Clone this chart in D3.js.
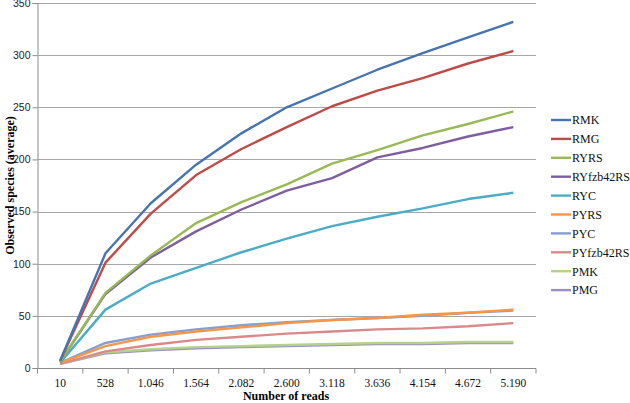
<!DOCTYPE html>
<html lang="en">
<head>
  <meta charset="UTF-8">
  <title>Observed species rarefaction</title>
  <style>
    html, body { margin: 0; padding: 0; background: #fff; }
    svg text { font-family: "Liberation Serif", "Times New Roman", serif; }
  </style>
</head>
<body>
<div id="chart"></div>
<script src="https://d3js.org/d3.v7.min.js"></script>
<script>
  const reads = ['10', '528', '1.046', '1.564', '2.082', '2.600', '3.118', '3.636', '4.154', '4.672', '5.190'];
  const yTicks = [0, 50, 100, 150, 200, 250, 300, 350];

  const seriesNames = ['RMK', 'RMG', 'RYRS', 'RYfzb42RS', 'RYC', 'PYRS', 'PYC', 'PYfzb42RS', 'PMK', 'PMG'];
  const seriesColors = ['#4674b0', '#be4b48', '#98b954', '#7d5fa0', '#4bacc6', '#f79646', '#849fd2', '#d9898a', '#b5d28d', '#9c8fc2'];

  const RMK = [7, 110, 158, 195, 225, 250, 268, 286, 302, 317, 332];
  const RMG = [7, 101, 148, 185, 210, 231, 251, 266, 278, 292, 304];
  const RYRS = [6, 72, 108, 139, 159, 176, 196, 209, 223, 234, 246];
  const RYfzb42RS = [6, 71, 106, 131, 152, 170, 182, 202, 211, 222, 231];
  const RYC = [5, 56, 81, 96, 111, 124, 136, 145, 153, 162, 168];
  const PYRS = [5, 21, 30, 35, 39, 43, 46, 48, 51, 53, 56];
  const PYC = [5, 24, 32, 37, 41, 44, 46, 48, 50, 53, 55];
  const PYfzb42RS = [4, 16, 22, 27, 30, 33, 35, 37, 38, 40, 43];
  const PMK = [4, 15, 18, 20, 21, 22, 23, 24, 24, 25, 25];
  const PMG = [4, 14, 17, 19, 20, 21, 22, 23, 23, 24, 24];

  const seriesValues = [RMK, RMG, RYRS, RYfzb42RS, RYC, PYRS, PYC, PYfzb42RS, PMK, PMG];

  const width = 630;
  const height = 403;
  const margin = { top: 3, left: 37.5, right: 94, bottom: 35 };
  const plotRight = width - margin.right;
  const plotBottom = height - margin.bottom;
  const serif = '"Liberation Serif", "Times New Roman", serif';

  const svg = d3.select('#chart').append('svg')
    .attr('width', width)
    .attr('height', height);

  const x = d3.scaleBand()
    .domain(reads)
    .range([margin.left, plotRight]);

  const y = d3.scaleLinear()
    .domain([0, 350])
    .range([plotBottom, margin.top]);

  // gridlines
  svg.append('g')
    .selectAll('line')
    .data(yTicks.slice(1))
    .join('line')
    .attr('x1', margin.left)
    .attr('x2', plotRight)
    .attr('y1', d => Math.round(y(d)) + 0.5)
    .attr('y2', d => Math.round(y(d)) + 0.5)
    .attr('stroke', '#a6a6a6')
    .attr('stroke-width', 1);

  // y axis
  const yAxis = svg.append('g')
    .attr('transform', `translate(${margin.left},0)`)
    .call(d3.axisLeft(y).tickValues(yTicks).tickSize(5).tickPadding(2));
  yAxis.select('.domain').attr('stroke', '#8c8c8c');
  yAxis.selectAll('.tick line').attr('stroke', '#8c8c8c');
  yAxis.selectAll('text')
    .style('font-family', '"Liberation Sans", Arial, sans-serif')
    .style('font-size', '10.5px')
    .attr('fill', '#222');

  // x axis: ticks between categories
  const xAxisG = svg.append('g')
    .attr('transform', `translate(0,${Math.round(plotBottom) + 0.5})`);
  xAxisG.append('line')
    .attr('x1', margin.left).attr('x2', plotRight)
    .attr('stroke', '#8c8c8c');
  const boundaries = reads.map(r => x(r)).concat([x(reads[reads.length - 1]) + x.bandwidth()]);
  xAxisG.selectAll('line.tk')
    .data(boundaries)
    .join('line')
    .attr('class', 'tk')
    .attr('x1', d => d).attr('x2', d => d)
    .attr('y1', 0).attr('y2', 5)
    .attr('stroke', '#8c8c8c');
  xAxisG.selectAll('text')
    .data(reads)
    .join('text')
    .attr('x', d => x(d) + x.bandwidth() / 2)
    .attr('y', 18)
    .attr('text-anchor', 'middle')
    .style('font-family', serif)
    .style('font-size', '11.5px')
    .attr('fill', '#111')
    .text(d => d);

  // lines
  const line = d3.line()
    .x((d, i) => x(reads[i]) + x.bandwidth() / 2)
    .y(d => y(d));

  const order = d3.range(seriesNames.length).reverse();
  svg.append('g')
    .selectAll('path')
    .data(order)
    .join('path')
    .attr('d', i => line(seriesValues[i]))
    .attr('fill', 'none')
    .attr('stroke', i => seriesColors[i])
    .attr('stroke-width', 2.4)
    .attr('stroke-linejoin', 'round');

  // legend
  const legend = svg.append('g')
    .selectAll('g')
    .data(seriesNames)
    .join('g')
    .attr('transform', (d, i) => `translate(551,${120 + i * 18.9})`);
  legend.append('line')
    .attr('x1', 0).attr('x2', 20)
    .attr('stroke', (d, i) => seriesColors[i])
    .attr('stroke-width', 2.4);
  legend.append('text')
    .attr('x', 21)
    .attr('y', 4.3)
    .style('font-family', serif)
    .style('font-size', '12px')
    .attr('fill', '#111')
    .text(d => d);

  // axis titles
  svg.append('text')
    .attr('x', 286)
    .attr('y', 400)
    .attr('text-anchor', 'middle')
    .style('font-family', serif)
    .style('font-size', '12px')
    .style('font-weight', 'bold')
    .text('Number of reads');

  svg.append('text')
    .attr('transform', `translate(10,${(margin.top + plotBottom) / 2}) rotate(-90)`)
    .attr('text-anchor', 'middle')
    .attr('dy', '0.35em')
    .style('font-family', serif)
    .style('font-size', '12px')
    .style('font-weight', 'bold')
    .text('Observed species (average)');
</script>
</body>
</html>
